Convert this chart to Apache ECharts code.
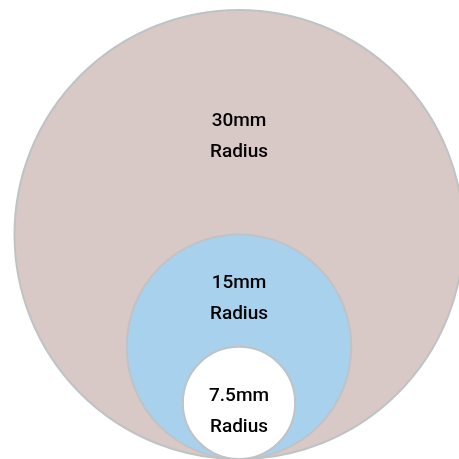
<!DOCTYPE html>
<html>
<head>
<meta charset="utf-8">
<script src="https://cdn.jsdelivr.net/npm/echarts@6/dist/echarts.min.js"></script>
<style>
  html, body { margin: 0; padding: 0; background: #fff; }
  #container { width: 459px; height: 459px; }
</style>
</head>
<body>
<div id="container"></div>
<script>
// circle radii in mm, largest first (they all touch at the bottom)
const radii = [30, 15, 7.5];
const labels = ['30mm\nRadius', '15mm\nRadius', '7.5mm\nRadius'];

const fills = ['#d8c8c6', '#a8d1ee', '#ffffff'];

const chart = echarts.init(document.getElementById('container'));

const option = {
  animation: false,
  grid: {
    left: 6.5,
    top: 10,
    width: 450,
    height: 450
  },
  xAxis: {
    type: 'value',
    min: -31,
    max: 29,
    show: false
  },
  yAxis: {
    type: 'value',
    min: 0,
    max: 60,
    show: false
  },
  series: [{
    type: 'custom',
    clip: false,
    data: radii.map((r, i) => ({ name: labels[i], value: [0, r] })),
    renderItem: function (params, api) {
      const r = api.value(1);
      const inner = radii[params.dataIndex + 1] || 0;
      const c = api.coord([0, r]);
      const rad = api.size([r, r])[1];
      // label sits a bit below the middle of the visible band
      const ly = 2 * inner + (2 * r - 2 * inner) * 0.45;
      const lp = api.coord([0, ly]);
      return {
        type: 'group',
        children: [{
          type: 'circle',
          shape: { cx: c[0], cy: c[1], r: rad },
          style: {
            fill: fills[params.dataIndex],
            stroke: '#bfc3c6',
            lineWidth: 2
          }
        }, {
          type: 'text',
          x: lp[0],
          y: lp[1] + 3,
          style: {
            text: labels[params.dataIndex],
            align: 'center',
            verticalAlign: 'middle',
            fontFamily: 'Roboto',
            fontWeight: 500,
            fontSize: 19,
            lineHeight: 31,
            fill: '#000'
          }
        }]
      };
    }
  }]
};

chart.setOption(option);
</script>
</body>
</html>
